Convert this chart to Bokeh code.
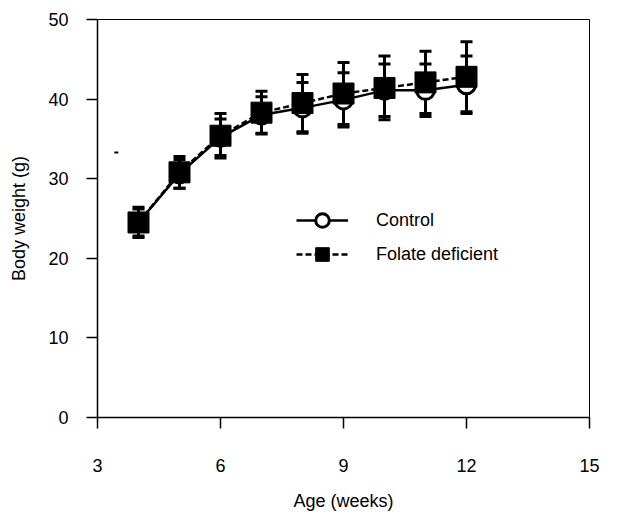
from bokeh.plotting import figure
from bokeh.models import ColumnDataSource, Whisker, TeeHead, Legend, LegendItem, FixedTicker, Range1d
from bokeh.embed import file_html
from bokeh.resources import INLINE

age = [4, 5, 6, 7, 8, 9, 10, 11, 12]
control_mean = [24.5, 30.6, 35.2, 38.0, 38.9, 39.9, 41.1, 41.1, 41.8]
control_sd = [1.7, 1.8, 2.3, 2.3, 3.2, 3.4, 3.3, 3.3, 3.6]
folate_mean = [24.5, 30.8, 35.4, 38.3, 39.5, 40.7, 41.4, 42.1, 42.8]
folate_sd = [1.9, 2.0, 2.8, 2.7, 3.6, 3.9, 4.0, 3.9, 4.4]
stray_x = [3.46]
stray_y = [33.3]

x_ticks = [3, 6, 9, 12, 15]
y_ticks = [0, 10, 20, 30, 40, 50]

FONT = "Liberation Sans"

p = figure(width=632, height=514, output_backend="svg", toolbar_location=None,
           x_range=Range1d(3, 15), y_range=Range1d(0, 50),
           min_border_left=97, min_border_right=43, min_border_top=19, min_border_bottom=97)
p.xgrid.visible = False
p.ygrid.visible = False
p.outline_line_color = "black"
p.outline_line_width = 1
p.background_fill_color = "white"
p.border_fill_color = "white"

for ax in (p.xaxis, p.yaxis):
    ax.axis_line_width = 1.5
    ax.major_tick_line_width = 1.5
    ax.minor_tick_line_color = None
    ax.major_tick_in = 0
    ax.major_tick_out = 11
    ax.major_label_text_font = FONT
    ax.major_label_text_font_size = "18px"
    ax.major_label_text_color = "black"
    ax.axis_label_text_font = FONT
    ax.axis_label_text_font_size = "18px"
    ax.axis_label_text_font_style = "normal"
    ax.axis_label_text_color = "black"

p.xaxis.ticker = FixedTicker(ticks=x_ticks)
p.yaxis.ticker = FixedTicker(ticks=y_ticks)
p.xaxis.major_label_standoff = 30
p.xaxis.axis_label = "Age (weeks)"
p.xaxis.axis_label_standoff = 16
p.yaxis.major_label_standoff = 18
p.yaxis.axis_label = "Body weight (g)"
p.yaxis.axis_label_standoff = 16

ctrl = ColumnDataSource(dict(x=age, y=control_mean,
                             lo=[m - s for m, s in zip(control_mean, control_sd)],
                             hi=[m + s for m, s in zip(control_mean, control_sd)]))
fol = ColumnDataSource(dict(x=age, y=folate_mean,
                            lo=[m - s for m, s in zip(folate_mean, folate_sd)],
                            hi=[m + s for m, s in zip(folate_mean, folate_sd)]))

for src in (ctrl, fol):
    w = Whisker(base="x", lower="lo", upper="hi", source=src, line_width=3, line_color="black",
                upper_head=TeeHead(size=12, line_width=3, line_color="black"),
                lower_head=TeeHead(size=12, line_width=3, line_color="black"))
    p.add_layout(w)

l_ctrl = p.line("x", "y", source=ctrl, line_color="black", line_width=2.5)
l_fol = p.line("x", "y", source=fol, line_color="black", line_width=2.5, line_dash="6 3")
m_ctrl = p.scatter("x", "y", source=ctrl, marker="circle", size=18, fill_color="white",
                   line_color="black", line_width=3)
m_fol = p.scatter("x", "y", source=fol, marker="square", size=21, fill_color="black",
                  line_color="black", line_width=1)

p.scatter(stray_x, stray_y, marker="dash", size=4, line_color="black", line_width=2)

legend = Legend(items=[LegendItem(label="Control", renderers=[l_ctrl, m_ctrl]),
                       LegendItem(label="Folate deficient", renderers=[l_fol, m_fol])],
                location=(199, 146), border_line_color=None, background_fill_alpha=0,
                label_text_font=FONT, label_text_font_size="18px", label_text_color="black",
                glyph_width=52, glyph_height=34, label_height=20, label_standoff=28, spacing=0,
                padding=0, margin=0)
p.add_layout(legend)

open("out.html", "w").write(file_html(p, INLINE))
